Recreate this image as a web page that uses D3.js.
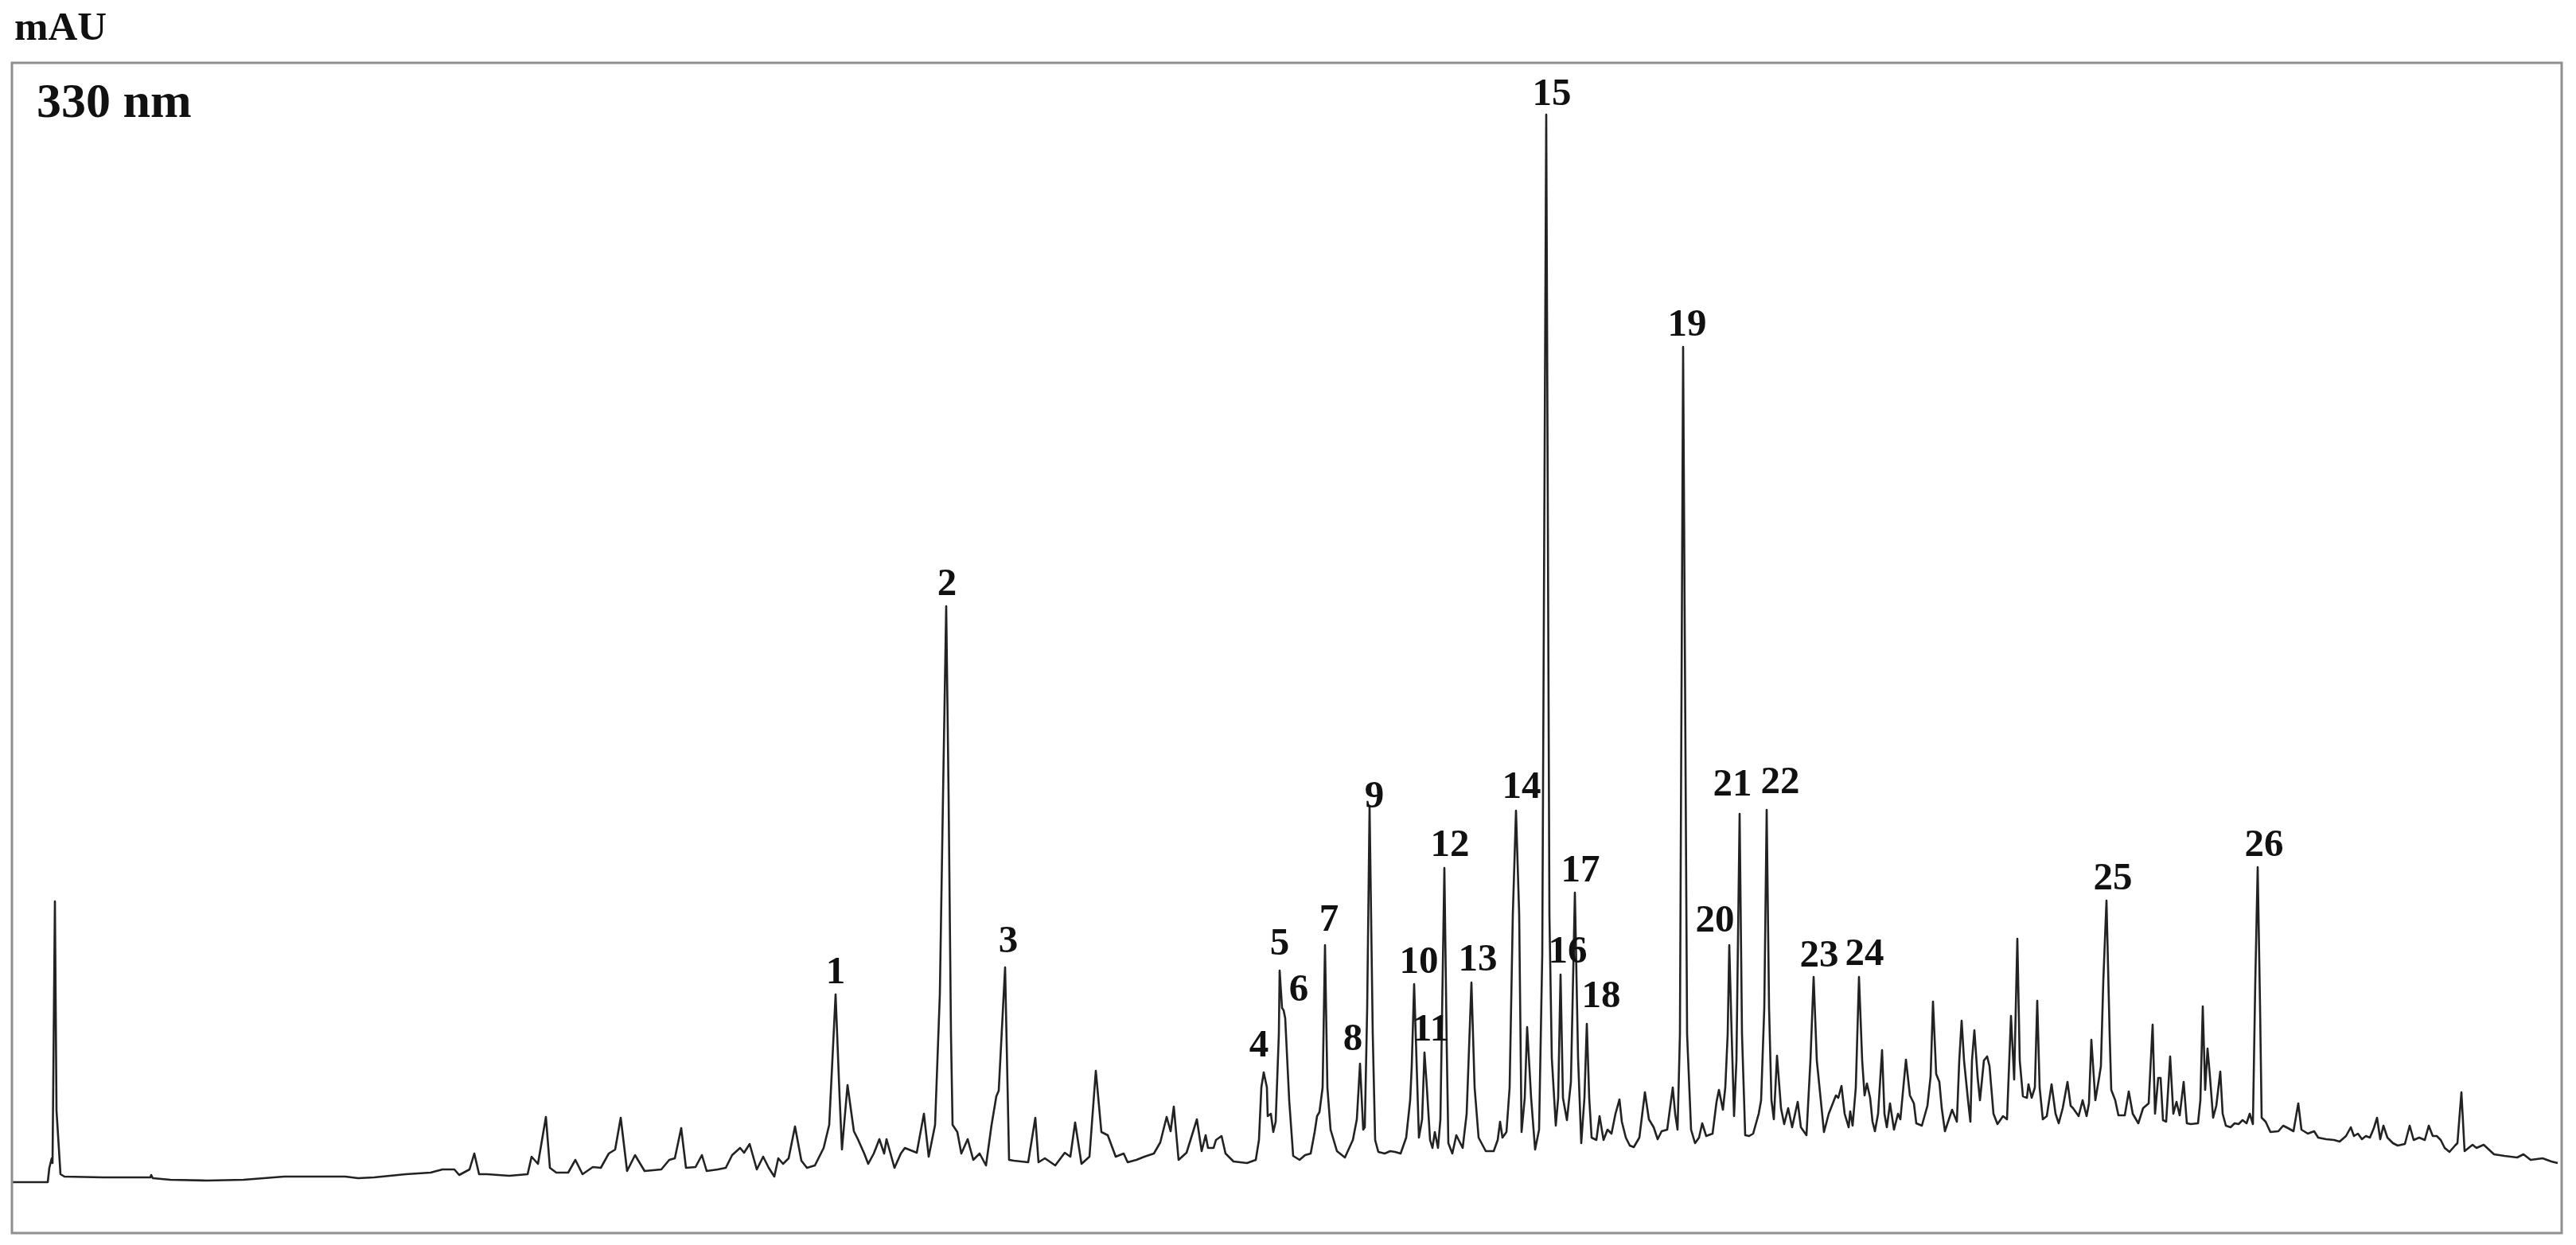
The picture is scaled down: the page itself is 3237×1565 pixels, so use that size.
<!DOCTYPE html>
<html>
<head>
<meta charset="utf-8">
<script src="https://cdn.jsdelivr.net/npm/d3@7"></script>
<style>
  html, body { margin: 0; padding: 0; background: #fff; }
  svg { display: block; }
  text { font-family: "Liberation Serif", "Times New Roman", serif; font-weight: bold; fill: #111; }
</style>
</head>
<body>
<svg id="chart" width="3237" height="1565"></svg>
<script>
// ---- Data (retention time in min, absorbance in mAU) ----
const yAxisTitle = "mAU";
const wavelengthLabel = "330 nm";
const rtDomain = [0, 64.08];
const mAUDomain = [-28, 560.4];

const rt = [
  0.00,0.90,0.94,1.00,1.02,1.08,1.12,1.22,1.32,2.30,3.48,3.50,3.54,3.98,4.90,5.82,6.84,8.38,8.70,9.10,
  9.90,10.52,10.82,11.12,11.24,11.50,11.62,11.74,11.94,12.50,12.96,13.06,13.22,13.42,13.52,13.68,13.98,14.16,14.34,14.60,
  14.80,15.00,15.16,15.30,15.46,15.66,
  15.90,16.32,16.52,16.66,16.82,16.94,17.18,17.34,17.46,17.74,17.94,18.10,18.30,18.40,18.54,18.72,18.88,19.02,19.16,19.26,
  19.38,19.52,19.68,19.84,19.98,20.18,20.40,20.54,20.70,20.80,20.86,21.00,21.16,21.26,21.42,21.52,21.66,21.80,21.92,21.98,
  22.08,22.18,22.34,22.44,22.74,22.92,23.04,23.20,23.32,23.40,23.48,23.54,23.60,23.64,23.76,23.86,24.02,24.16,24.32,24.48,
  24.62,24.74,24.80,24.96,25.06,25.18,25.54,25.72,25.80,25.96,26.22,26.46,26.60,26.72,26.88,27.08,27.24,27.38,27.54,27.74,
  27.94,28.04,28.26,28.46,28.70,28.86,29.02,29.12,29.20,29.32,29.52,
  29.70,29.78,29.90,30.00,30.06,30.20,30.26,30.40,30.50,30.70,31.04,31.26,31.34,31.40,31.46,31.54,31.56,31.64,31.70,31.76,
  31.84,31.86,31.92,31.96,32.00,32.10,32.20,32.36,32.50,32.64,32.74,32.80,32.86,32.94,33.00,33.06,33.14,33.30,33.50,33.70,
  33.80,33.88,33.96,34.00,34.06,34.12,34.20,34.26,34.34,34.50,34.64,34.76,34.90,35.04,35.14,35.18,35.24,35.30,35.36,35.44,
  35.50,35.56,35.64,35.70,35.76,35.84,35.90,36.00,36.06,36.10,36.20,36.30,36.36,36.46,36.56,36.68,36.76,36.86,37.04,37.24,
  37.34,37.40,37.46,37.56,37.64,37.72,37.80,37.88,37.94,38.02,38.08,38.18,38.28,38.38,38.46,38.56,38.64,38.70,38.80,38.86,
  38.92,38.98,39.08,39.18,39.28,39.36,39.44,39.52,39.58,39.64,39.70,39.82,39.90,40.00,40.10,40.20,40.30,40.40,40.46,40.56,
  40.66,40.76,40.90,41.04,41.14,41.26,41.36,41.46,41.60,41.74,41.80,41.86,41.92,42.00,42.10,42.20,42.30,42.40,42.48,42.58,
  42.74,42.84,42.90,43.00,43.06,43.12,43.16,43.22,43.28,43.34,43.42,43.48,43.56,43.66,43.76,43.90,43.96,44.04,44.10,44.16,
  44.22,44.28,44.36,44.46,44.54,44.64,44.74,44.88,44.96,45.10,45.20,45.28,45.36,45.54,45.66,
  45.84,45.90,45.98,46.06,46.16,46.20,46.26,46.34,46.42,46.50,46.56,46.62,46.70,46.76,46.82,46.90,47.00,47.06,47.12,47.20,
  47.30,47.40,47.46,47.60,47.70,47.80,47.86,48.00,48.14,48.22,48.28,48.36,48.44,48.50,48.58,48.66,48.76,48.88,48.94,49.00,
  49.06,49.16,49.22,49.26,49.32,49.40,49.46,49.56,49.64,49.70,49.80,49.90,50.04,50.14,50.24,50.32,50.40,50.46,50.54,50.64,
  50.68,50.76,50.84,50.90,50.96,51.04,51.14,51.26,51.36,51.44,51.54,51.66,51.74,51.80,51.94,52.04,52.14,52.20,52.26,52.36,
  52.46,52.50,52.56,52.64,52.72,52.76,52.86,52.94,53.10,53.20,53.30,53.44,53.56,53.70,
  53.80,53.86,53.94,54.00,54.06,54.14,54.24,54.32,54.40,54.48,54.58,54.66,54.76,54.94,55.00,55.06,55.12,55.18,55.24,55.32,
  55.40,55.50,55.56,55.64,55.76,55.86,55.96,56.06,56.16,56.24,56.32,56.38,56.44,56.50,56.54,56.64,56.76,56.96,57.08,57.20,
  57.34,57.46,57.54,57.70,57.86,57.96,58.16,58.36,58.50,58.66,58.78,58.86,58.96,59.06,59.16,59.26,59.36,59.44,59.52,59.60,
  59.70,59.84,59.96,60.14,60.26,60.36,60.50,60.64,60.74,60.84,60.94,61.04,61.14,61.26,61.40,61.46,61.56,61.64,61.84,61.94,
  62.12,62.38,62.64,62.96,63.12,63.30,63.60,63.82,63.98
];

const absorbance = [
  -2.4,-2.4,4.8,9.6,7.2,138.8,33.6,1.6,0.4,0,0,1.2,-0.4,-1.2,-1.6,-1.2,0.4,0.4,-0.4,0,
  1.6,2.4,4.0,4.0,1.2,4.0,12.0,1.6,1.6,0.8,1.6,10.4,6.8,30.4,4.8,2.4,2.4,8.8,1.6,5.2,
  4.8,12.0,14.0,30.0,3.2,11.2,
  3.2,4.0,8.8,9.6,24.8,4.8,5.2,11.2,3.2,4.0,4.8,11.2,14.8,12.4,16.8,4.0,10.4,4.8,0.4,9.6,
  6.8,9.6,25.6,8.4,4.8,6.0,14.8,26.4,92.0,40.8,14.0,46.4,23.2,19.2,12.0,6.8,12.0,19.2,12.0,19.2,
  12.0,4.8,12.0,14.8,12.4,32.0,10.4,26.4,92.0,192.0,287.2,192.0,72.0,26.4,22.8,12.0,19.2,8.8,12.0,6.0,
  26.4,40.8,43.6,105.6,8.8,8.4,7.6,30.0,7.6,9.6,6.0,12.4,10.4,27.6,6.8,10.4,53.6,22.8,21.2,10.4,
  12.0,7.6,8.8,10.4,12.0,17.6,30.4,23.2,35.6,8.8,12.4,
  24.0,29.2,13.2,21.2,14.8,14.8,18.8,20.8,12.0,8.0,7.2,8.8,18.8,45.2,52.8,45.2,30.8,32.0,22.8,28.0,
  72.0,104.0,85.2,84.0,80.0,38.8,10.8,8.8,11.2,12.0,22.8,30.8,32.8,45.2,116.8,45.2,24.0,13.2,10.0,18.8,
  29.2,57.2,24.0,25.2,85.2,186.4,72.0,18.8,12.8,12.0,13.2,12.8,12.0,20.0,38.8,56.0,97.2,58.8,20.0,29.2,
  62.8,45.2,18.8,14.8,22.8,14.8,29.2,155.6,65.2,17.2,12.0,21.2,18.8,14.8,32.0,98.0,45.2,20.0,13.2,13.2,
  18.8,28.0,20.0,22.8,45.2,132.0,184.4,132.0,22.8,40.0,75.6,40.0,14.0,24.0,112.0,534.4,132.0,60.0,26.0,40.0,
  102.0,40.0,28.8,48.0,143.2,60.0,17.2,40.0,77.2,40.0,20.0,18.8,30.8,18.8,24.0,22.0,32.0,39.2,28.0,20.0,
  16.0,15.2,20.0,42.8,29.2,25.2,19.2,23.2,24.0,45.2,32.0,24.0,72.0,417.6,72.0,24.0,17.2,20.0,27.2,20.8,
  22.0,38.0,44.0,34.0,45.2,72.0,116.8,72.0,30.8,58.8,182.8,72.0,21.2,20.8,22.0,32.0,38.8,85.2,184.8,85.2,
  38.8,29.2,61.2,34.8,26.8,34.8,25.2,38.0,25.2,21.2,58.8,100.8,58.8,22.8,32.0,
  41.2,40.0,46.0,32.0,25.2,33.2,26.0,45.2,100.8,58.8,41.2,47.2,40.0,28.0,23.2,32.0,64.0,32.0,25.2,37.2,
  24.0,32.0,29.2,59.2,41.2,37.2,27.2,26.0,36.0,50.8,88.4,52.0,48.0,34.8,23.2,28.0,34.0,28.0,58.8,78.8,
  58.8,38.8,28.0,58.8,74.0,50.8,38.8,58.8,60.8,56.0,32.0,26.8,30.8,29.2,81.2,49.2,120.0,58.8,40.8,40.0,
  46.8,40.0,45.2,88.8,45.2,29.2,30.8,46.8,32.0,27.2,34.8,48.0,36.0,34.8,30.8,38.8,30.8,37.2,69.2,38.8,
  50.8,56.0,98.8,139.2,72.0,44.0,38.8,31.2,31.2,43.2,32.0,27.2,34.8,37.2,
  76.8,32.0,50.0,50.0,28.8,28.0,60.8,32.0,38.0,31.2,48.0,27.2,26.8,27.2,38.8,86.0,44.0,64.8,50.8,30.0,
  36.0,53.2,32.0,26.0,25.2,27.2,26.8,28.8,27.2,32.0,26.8,98.8,156.0,85.2,30.0,28.0,22.8,23.2,26.0,24.8,
  23.2,37.2,24.0,22.0,23.2,20.0,19.2,18.8,18.0,20.8,25.2,20.8,22.0,19.2,20.8,20.0,24.8,30.0,19.2,26.0,
  20.0,17.2,16.0,16.8,26.0,18.8,20.0,18.8,26.0,20.8,20.8,18.8,14.8,12.8,16.0,17.2,42.8,13.2,16.4,14.8,
  16.4,11.6,10.8,10.0,11.6,8.8,9.6,8.0,7.2
];

// Peak annotation numbers and their anchor (rt, mAU) positions
const peakIds = ["1","2","3","4","5","6","7","8","9","10","11","12","13",
                 "14","15","16","17","18","19","20","21","22","23","24","25","26"];
const peakLabelRt = [20.70,23.50,25.04,31.34,31.86,32.34,33.10,33.70,34.24,35.36,35.66,36.14,36.84,
                     37.94,38.70,39.10,39.42,39.94,42.10,42.80,43.24,44.44,45.42,46.56,52.80,56.60];
const peakLabelMAU = [97.6,292.8,113.2,60.8,112.0,88.8,124.0,64.0,186.0,102.8,68.8,161.6,104.0,
                      190.8,539.2,108.0,148.8,85.6,423.2,123.6,192.0,193.2,106.0,106.8,144.8,161.6];

// ---- Layout ----
const frame = { left: 15, right: 3219, top: 79, bottom: 1550 };
const svg = d3.select("#chart");

const x = d3.scaleLinear().domain(rtDomain).range([frame.left, frame.right]);
const y = d3.scaleLinear().domain(mAUDomain).range([frame.bottom, frame.top]);

const points = rt.map((t, i) => [t, absorbance[i]]);

// trace
svg.append("path")
  .datum(points)
  .attr("fill", "none")
  .attr("stroke", "#222")
  .attr("stroke-width", 2.6)
  .attr("stroke-linejoin", "round")
  .attr("d", d3.line().x(d => x(d[0])).y(d => y(d[1])));

// frame
svg.append("rect")
  .attr("x", frame.left)
  .attr("y", frame.top)
  .attr("width", frame.right - frame.left)
  .attr("height", frame.bottom - frame.top)
  .attr("fill", "none")
  .attr("stroke", "#8f8f8f")
  .attr("stroke-width", 3);

// axis title & wavelength
svg.append("text")
  .attr("x", 18).attr("y", 50)
  .attr("font-size", 51)
  .text(yAxisTitle);

svg.append("text")
  .attr("x", 46).attr("y", 147)
  .attr("font-size", 62)
  .text(wavelengthLabel);

// peak labels
svg.append("g").selectAll("text")
  .data(peakIds)
  .join("text")
  .attr("x", (d, i) => x(peakLabelRt[i]))
  .attr("y", (d, i) => y(peakLabelMAU[i]))
  .attr("text-anchor", "middle")
  .attr("font-size", 49)
  .text(d => d);
</script>
</body>
</html>
